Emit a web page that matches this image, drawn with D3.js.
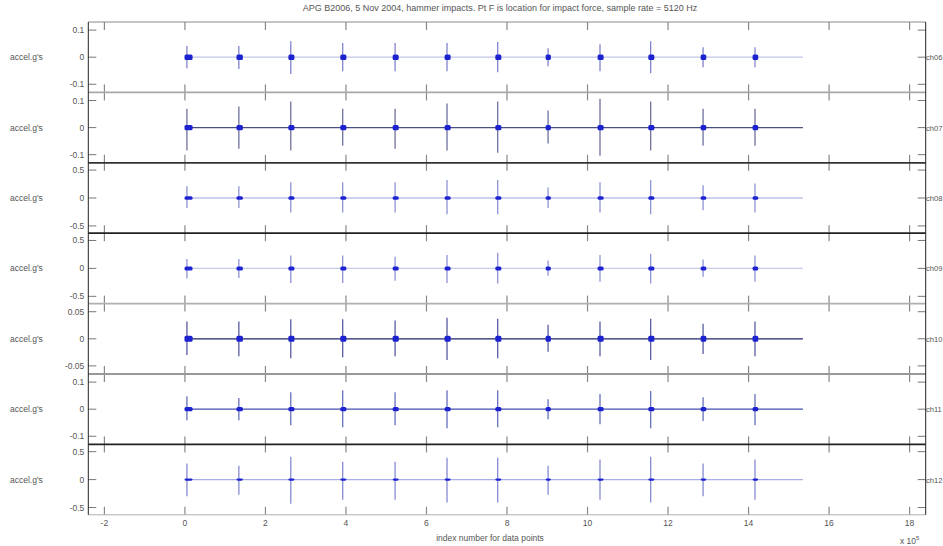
<!DOCTYPE html>
<html><head><meta charset="utf-8">
<script src="https://cdn.jsdelivr.net/npm/d3@7"></script>
<style>body{margin:0;background:#fff;overflow:hidden}svg{display:block}text{font-family:"Liberation Sans",Arial,sans-serif;fill:#555}</style>
</head><body>
<script>
const titleText = "APG B2006, 5 Nov 2004,  hammer impacts. Pt F is location for impact force, sample rate = 5120 Hz";
const xLabel = "index number for data points";
const yLabel = "accel.g's";
const channels = ["ch06","ch07","ch08","ch09","ch10","ch11","ch12"];
const yLimits = [0.13, 0.13, 0.63, 0.63, 0.065, 0.13, 0.63];
const yTicks = [[-0.1,0,0.1],[-0.1,0,0.1],[-0.5,0,0.5],[-0.5,0,0.5],[-0.05,0,0.05],[-0.1,0,0.1],[-0.5,0,0.5]];
const xTicks = [-2,0,2,4,6,8,10,12,14,16,18];
const xDomain = [-2.4, 18.4];
const recordSpan = [0, 15.35];
const impacts = [0.05, 1.34, 2.63, 3.92, 5.22, 6.51, 7.77, 9.02, 10.31, 11.57, 12.87, 14.16];
const ringDur = [0.14,0.10,0.09,0.09,0.09,0.09,0.09,0.07,0.09,0.09,0.08,0.08];
const peakPos = [
  [0.041,0.041,0.059,0.052,0.052,0.052,0.056,0.033,0.048,0.059,0.037,0.037],
  [0.070,0.078,0.096,0.070,0.070,0.089,0.096,0.063,0.107,0.096,0.070,0.070],
  [0.21,0.21,0.28,0.28,0.28,0.32,0.32,0.19,0.28,0.32,0.23,0.26],
  [0.17,0.17,0.23,0.23,0.21,0.24,0.28,0.14,0.24,0.26,0.16,0.23],
  [0.032,0.032,0.036,0.036,0.034,0.039,0.037,0.026,0.032,0.037,0.028,0.032],
  [0.048,0.041,0.063,0.070,0.063,0.070,0.070,0.037,0.056,0.067,0.044,0.056],
  [0.29,0.25,0.41,0.32,0.32,0.39,0.39,0.25,0.36,0.41,0.29,0.36]
];
const peakNeg = [
  [-0.041,-0.044,-0.062,-0.052,-0.052,-0.052,-0.056,-0.033,-0.052,-0.059,-0.037,-0.037],
  [-0.085,-0.078,-0.085,-0.067,-0.078,-0.085,-0.093,-0.059,-0.104,-0.085,-0.067,-0.067],
  [-0.18,-0.18,-0.26,-0.26,-0.26,-0.29,-0.29,-0.18,-0.26,-0.29,-0.22,-0.26],
  [-0.18,-0.17,-0.26,-0.26,-0.22,-0.26,-0.27,-0.13,-0.24,-0.27,-0.15,-0.24],
  [-0.030,-0.032,-0.036,-0.034,-0.032,-0.039,-0.036,-0.024,-0.032,-0.039,-0.028,-0.032],
  [-0.041,-0.041,-0.059,-0.067,-0.059,-0.070,-0.067,-0.037,-0.056,-0.070,-0.044,-0.059],
  [-0.30,-0.27,-0.43,-0.36,-0.36,-0.41,-0.41,-0.27,-0.36,-0.41,-0.30,-0.36]
];
const ringAmp = [0.010, 0.010, 0.030, 0.036, 0.0055, 0.008, 0.020];
const traceColors = ["#c3c6ea","#4a4e7e","#9ea3dc","#c8cbe8","#1e2466","#4250b0","#a8aee6"];
const spikeColors = ["#6a6ec4","#55578a","#7a80cc","#7a80cc","#3a3f90","#4a55b0","#7076c8"];
const boundaryColors = ["#8a8a8a","#a8a8a8","#333","#222","#b0b0b0","#999","#222","#b0b0b0"];

const W = 943, H = 546;
const L = 88.3, R = 925.7, T = 22, PH = 70.4;
const svg = d3.select("body").append("svg").attr("width", W).attr("height", H);
const x = d3.scaleLinear().domain(xDomain).range([L, R]);

channels.forEach((ch, i) => {
  const top = T + i * PH;
  const y = d3.scaleLinear().domain([-yLimits[i], yLimits[i]]).range([top + PH, top]);
  const g = svg.append("g");
  g.append("line").attr("x1", x(recordSpan[0])).attr("x2", x(recordSpan[1]))
    .attr("y1", y(0)).attr("y2", y(0)).attr("stroke", traceColors[i]).attr("stroke-width", 1.2);
  g.selectAll("line.sp").data(impacts).join("line").attr("class","sp")
    .attr("x1", d => x(d)).attr("x2", d => x(d))
    .attr("y1", (d, k) => y(peakPos[i][k])).attr("y2", (d, k) => y(peakNeg[i][k]))
    .attr("stroke", spikeColors[i]).attr("stroke-width", 1.1);
  g.selectAll("rect.rg").data(impacts).join("rect").attr("class","rg")
    .attr("x", d => x(d - 0.06)).attr("width", (d, k) => x(d + ringDur[k]) - x(d - 0.06))
    .attr("y", y(ringAmp[i])).attr("height", y(-ringAmp[i]) - y(ringAmp[i]))
    .attr("rx", 1.5).attr("fill", "#1c22d0");
  yTicks[i].forEach(t => {
    g.append("line").attr("x1", L).attr("x2", L + 8).attr("y1", y(t)).attr("y2", y(t)).attr("stroke", "#777");
    g.append("line").attr("x1", R - 8).attr("x2", R).attr("y1", y(t)).attr("y2", y(t)).attr("stroke", "#777");
    g.append("text").attr("x", L - 4).attr("y", y(t) + 3).attr("text-anchor", "end")
      .attr("font-size", 8.5).text(t);
  });
  g.append("text").attr("x", 10).attr("y", y(0) + 3).attr("font-size", 8.5).text(yLabel);
  g.append("text").attr("x", R + 0.2).attr("y", y(0) + 3).attr("font-size", 7.6).text(ch);
  xTicks.forEach(t => {
    g.append("line").attr("x1", x(t)).attr("x2", x(t)).attr("y1", top).attr("y2", top + 8).attr("stroke", "#888").attr("stroke-width", 1.2);
    g.append("line").attr("x1", x(t)).attr("x2", x(t)).attr("y1", top + PH - 8).attr("y2", top + PH).attr("stroke", "#888").attr("stroke-width", 1.2);
  });
});

d3.range(channels.length + 1).forEach(k => {
  svg.append("line").attr("x1", L).attr("x2", R).attr("y1", T + k * PH).attr("y2", T + k * PH)
    .attr("stroke", boundaryColors[k]).attr("stroke-width", (k === 0 || k === 7) ? 1 : 1.8);
});
svg.append("line").attr("x1", L).attr("x2", L).attr("y1", T).attr("y2", T + 7 * PH).attr("stroke", "#222");
svg.append("line").attr("x1", R).attr("x2", R).attr("y1", T).attr("y2", T + 7 * PH).attr("stroke", "#222");

const bottom = T + 7 * PH;
xTicks.forEach(t => {
  svg.append("text").attr("x", x(t)).attr("y", bottom + 11).attr("text-anchor", "middle").attr("font-size", 8.5).text(t);
});
svg.append("text").attr("x", 490).attr("y", bottom + 26).attr("text-anchor", "middle").attr("font-size", 8.5).text(xLabel);
const ex = svg.append("text").attr("x", 900).attr("y", bottom + 29).attr("font-size", 8.5);
ex.append("tspan").text("x 10");
ex.append("tspan").attr("dy", -4).attr("font-size", 6).text("5");
svg.append("text").attr("x", 500).attr("y", 11).attr("text-anchor", "middle").attr("font-size", 9).text(titleText);
</script>
</body></html>
